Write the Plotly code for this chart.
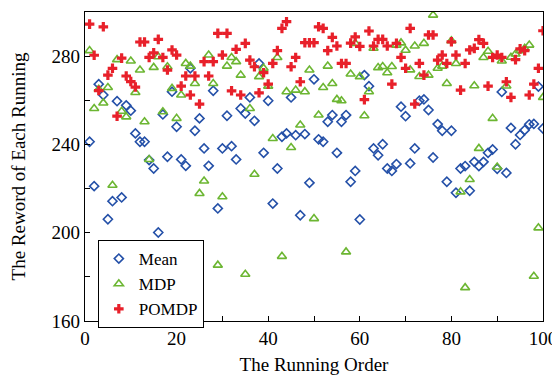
import plotly.graph_objects as go

run_order = list(range(1, 101))

mean_reward = [
    241.2, 221.1, 267.3, 262.4, 206.1, 214.3, 259.6, 216.0, 257.7, 255.3,
    245.0, 241.2, 241.2, 232.9, 229.1, 200.1, 253.6, 234.4, 263.9, 248.0,
    233.2, 230.3, 274.5, 246.2, 251.8, 238.2, 230.3, 264.3, 211.0, 238.2,
    253.0, 239.2, 233.2, 256.3, 254.0, 261.3, 250.7, 276.7, 236.2, 259.8,
    213.2, 229.1, 243.5, 245.0, 261.3, 244.2, 207.9, 244.7, 222.6, 269.5,
    242.3, 241.2, 250.3, 253.3, 236.2, 250.3, 253.3, 223.1, 228.0, 206.0,
    271.4, 266.4, 238.2, 235.1, 240.1, 229.1, 228.0, 231.1, 257.1, 252.8,
    231.4, 238.2, 259.8, 260.4, 255.6, 234.1, 249.2, 246.2, 223.1, 246.2,
    218.1, 229.1, 230.2, 219.0, 232.1, 230.2, 232.1, 236.2, 237.7, 229.0,
    263.8, 227.1, 247.5, 240.1, 244.3, 246.5, 249.1, 249.3, 266.2, 247.2,
]

mdp_reward = [
    282.5, 256.3, 265.0, 258.8, 265.8, 221.5, 278.4, 255.0, 252.5, 277.8,
    263.5, 273.7, 250.3, 233.2, 274.9, 279.7, 254.8, 275.2, 265.4, 251.8,
    262.4, 276.7, 275.5, 267.6, 217.8, 223.4, 280.5, 267.6, 185.3, 216.3,
    275.5, 279.4, 277.5, 271.4, 181.2, 256.3, 226.5, 270.7, 274.5, 266.4,
    242.7, 279.4, 189.3, 263.9, 238.6, 264.6, 248.8, 263.9, 273.7, 206.4,
    253.3, 265.8, 275.5, 267.6, 260.4, 259.8, 191.3, 271.9, 285.8, 270.7,
    253.0, 263.9, 283.6, 274.8, 275.3, 272.5, 275.3, 285.0, 286.0, 282.7,
    273.8, 284.6, 270.8, 285.8, 271.4, 298.6, 274.5, 275.5, 267.6, 287.0,
    276.7, 218.5, 175.1, 224.1, 266.6, 238.2, 279.4, 282.2, 251.8, 229.8,
    277.8, 266.5, 279.5, 281.0, 282.5, 283.5, 285.0, 180.3, 202.2, 261.3,
]

pomdp_reward = [
    294.5, 280.4, 264.4, 293.3, 271.4, 274.5, 252.8, 279.1, 271.0, 268.5,
    266.0, 286.4, 286.4, 279.4, 281.5, 287.6, 279.4, 273.7, 282.8, 280.5,
    266.4, 271.0, 262.4, 271.0, 258.3, 277.5, 271.0, 277.5, 290.3, 280.5,
    290.3, 264.3, 283.1, 262.4, 285.8, 278.2, 275.2, 263.4, 272.5, 267.3,
    276.7, 282.5, 292.6, 295.6, 275.2, 279.4, 268.4, 286.1, 286.1, 286.1,
    293.3, 292.6, 282.5, 288.5, 284.6, 276.7, 276.7, 285.9, 288.7, 284.4,
    260.3, 291.4, 284.6, 287.6, 287.6, 284.6, 267.3, 285.8, 279.4, 274.5,
    292.6, 258.3, 276.7, 271.4, 289.6, 289.6, 278.2, 280.5, 276.7, 286.5,
    280.5, 264.6, 276.7, 282.8, 283.5, 287.5, 285.8, 266.4, 279.4, 280.5,
    279.4, 268.4, 261.3, 278.4, 283.3, 282.5, 262.4, 267.3, 274.5, 291.5,
]

FONT = "Liberation Serif, Times New Roman, serif"

fig = go.Figure()
fig.add_trace(go.Scatter(
    x=run_order, y=mean_reward, mode="markers", name="Mean",
    marker=dict(symbol="diamond-open", size=7, color="#2450a8",
                line=dict(width=1.6, color="#2450a8")),
))
fig.add_trace(go.Scatter(
    x=run_order, y=mdp_reward, mode="markers", name="MDP",
    marker=dict(symbol="triangle-up-open", size=8, color="#6cb632",
                line=dict(width=1.6, color="#6cb632")),
))
fig.add_trace(go.Scatter(
    x=run_order, y=pomdp_reward, mode="markers", name="POMDP",
    marker=dict(symbol="cross", size=8, color="#e8202a",
                line=dict(width=0)),
))

# The page body has an 8px default margin, so the figure is offset by (8, 8).
fig.update_layout(
    width=552, height=367,
    margin=dict(l=77, r=17, t=4, b=54),
    paper_bgcolor="white", plot_bgcolor="white",
    font=dict(family=FONT, size=19, color="black"),
    showlegend=True,
    legend=dict(
        x=0.028, y=0.262, xanchor="left", yanchor="top",
        bgcolor="white", bordercolor="black", borderwidth=1,
        font=dict(family=FONT, size=17, color="black"),
        tracegroupgap=0, itemwidth=30,
    ),
    xaxis=dict(
        range=[0, 100], tickvals=[0, 20, 40, 60, 80, 100],
        ticks="inside", ticklen=5, tickwidth=1, tickcolor="black",
        minor=dict(tickvals=[10, 30, 50, 70, 90], ticks="inside", ticklen=5, tickcolor="black"),
        showline=True, linecolor="black", linewidth=1.2, mirror=True,
        showgrid=False, zeroline=False, automargin=False,
        title=dict(text="The Running Order", font=dict(family=FONT, size=19), standoff=10),
        tickfont=dict(family=FONT, size=19),
    ),
    yaxis=dict(
        range=[160, 300], tickvals=[160, 200, 240, 280],
        ticks="inside", ticklen=5, tickwidth=1, tickcolor="black",
        minor=dict(tickvals=[180, 220, 260, 300], ticks="inside", ticklen=5, tickcolor="black"),
        showline=True, linecolor="black", linewidth=1.2, mirror=True,
        showgrid=False, zeroline=False, automargin=False,
        title=dict(text="The Reword of Each Running", font=dict(family=FONT, size=19), standoff=21),
        tickfont=dict(family=FONT, size=19),
    ),
)

fig.write_html("out.html")
